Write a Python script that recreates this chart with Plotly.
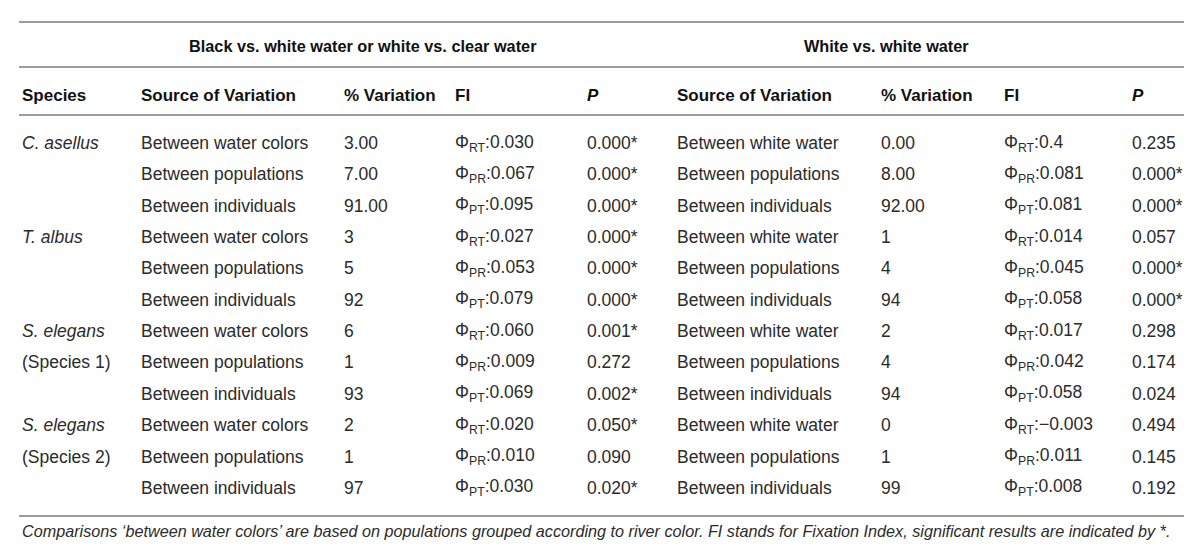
import plotly.graph_objects as go

# ---------------- data ----------------
group_headers = ["Black vs. white water or white vs. clear water", "White vs. white water"]
column_headers = ["Species", "Source of Variation", "% Variation", "FI", "<i>P</i>",
                  "Source of Variation", "% Variation", "FI", "<i>P</i>"]

species_labels = ["<i>C. asellus</i>", "", "",
                  "<i>T. albus</i>", "", "",
                  "<i>S. elegans</i>", "(Species 1)", "",
                  "<i>S. elegans</i>", "(Species 2)", ""]

source_bw = ["Between water colors", "Between populations", "Between individuals"] * 4
source_ww = ["Between white water", "Between populations", "Between individuals"] * 4

pct_var_bw = ["3.00", "7.00", "91.00", "3", "5", "92", "6", "1", "93", "2", "1", "97"]
pct_var_ww = ["0.00", "8.00", "92.00", "1", "4", "94", "2", "4", "94", "0", "1", "99"]

fi_index = ["RT", "PR", "PT"] * 4
fi_bw = ["0.030", "0.067", "0.095", "0.027", "0.053", "0.079",
         "0.060", "0.009", "0.069", "0.020", "0.010", "0.030"]
fi_ww = ["0.4", "0.081", "0.081", "0.014", "0.045", "0.058",
         "0.017", "0.042", "0.058", "\u22120.003", "0.011", "0.008"]

p_bw = ["0.000*", "0.000*", "0.000*", "0.000*", "0.000*", "0.000*",
        "0.001*", "0.272", "0.002*", "0.050*", "0.090", "0.020*"]
p_ww = ["0.235", "0.000*", "0.000*", "0.057", "0.000*", "0.000*",
        "0.298", "0.174", "0.024", "0.494", "0.145", "0.192"]

footnote = ("<i>Comparisons \u2018between water colors\u2019 are based on populations grouped according "
            "to river color. FI stands for Fixation Index, significant results are indicated by *.</i>")

# ---------------- layout constants ----------------
# page has an 8px body margin, so the figure is 1184x534 and axes map to page pixels
PAGE_MARGIN = 8
W, H = 1200 - 2 * PAGE_MARGIN, 550 - 2 * PAGE_MARGIN
FONT = "Liberation Sans, Arial, sans-serif"
BODY = "#2b2b2b"
HEAD = "#111111"
col_x = [20, 139, 342, 453, 585, 675, 879, 1002, 1130]
group_cx = [363, 886]
y_group = 46
y_header = 95
row_y0, row_dy = 143, 31.35
y_foot = 531
line_y = [22, 67, 115, 516]
line_x = [19, 1184]

fi_text_bw = [f"\u03a6<sub>{s}</sub>:{v}" for s, v in zip(fi_index, fi_bw)]
fi_text_ww = [f"\u03a6<sub>{s}</sub>:{v}" for s, v in zip(fi_index, fi_ww)]
columns = [species_labels, source_bw, pct_var_bw, fi_text_bw, p_bw,
           source_ww, pct_var_ww, fi_text_ww, p_ww]

fig = go.Figure()
anns = []

for cx, txt in zip(group_cx, group_headers):
    anns.append(dict(x=cx, y=y_group, text=f"<b>{txt}</b>", xanchor="center", yanchor="middle",
                     font=dict(family=FONT, size=16.3, color=HEAD)))

for x, txt in zip(col_x, column_headers):
    anns.append(dict(x=x, y=y_header, text=f"<b>{txt}</b>", xanchor="left", yanchor="middle",
                     font=dict(family=FONT, size=17, color=HEAD)))

for x, col in zip(col_x, columns):
    for i, txt in enumerate(col):
        if not txt:
            continue
        anns.append(dict(x=x, y=row_y0 + i * row_dy, text=txt, xanchor="left", yanchor="middle",
                         font=dict(family=FONT, size=17.5, color=BODY)))

anns.append(dict(x=20, y=y_foot, text=footnote, xanchor="left", yanchor="middle",
                 font=dict(family=FONT, size=16.2, color=BODY)))

for a in anns:
    a.update(xref="x", yref="y", showarrow=False)

shapes = [dict(type="line", xref="x", yref="y", x0=line_x[0], x1=line_x[1], y0=ly, y1=ly,
               line=dict(color="#7a7a7a", width=1.5)) for ly in line_y]

fig.update_layout(
    width=W, height=H,
    margin=dict(l=0, r=0, t=0, b=0),
    paper_bgcolor="white", plot_bgcolor="white",
    xaxis=dict(range=[PAGE_MARGIN, PAGE_MARGIN + W], visible=False, fixedrange=True),
    yaxis=dict(range=[PAGE_MARGIN + H, PAGE_MARGIN], visible=False, fixedrange=True),
    annotations=anns, shapes=shapes, showlegend=False,
)

fig.write_html("out.html")
